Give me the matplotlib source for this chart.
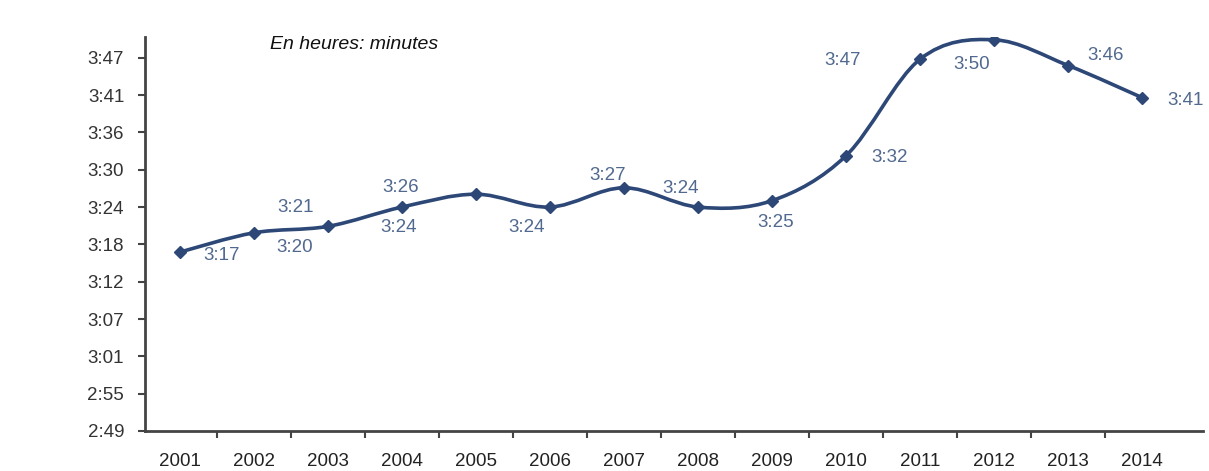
import matplotlib
matplotlib.use("Agg")
from matplotlib import patches, pyplot as plt
from matplotlib.path import Path
import numpy as np

plt.rcParams['font.family'] = ['Liberation Sans', 'DejaVu Sans']

years = ['2001', '2002', '2003', '2004', '2005', '2006', '2007',
         '2008', '2009', '2010', '2011', '2012', '2013', '2014']
# durée en minutes
minutes = [197, 200, 201, 204, 206, 204, 207, 204, 205, 212, 227, 230, 226, 221]
# position des étiquettes (pixels, relatif au point)
label_dx = [42, 41, -32, -3, -75, -23, -16, -17, 4, 43, -78, -23, 37, 43]
label_dy = [-3, -15, 19, -20, 7, -20, 12, 19, -22, -2, -1, -25, 10, -3]

y_ticks = [169.2 + 5.8 * k for k in range(11)]

line_color = '#2d4877'
label_color = '#51698f'


def hmm(v):
    v = int(round(v))
    return "%d:%02d" % (v // 60, v % 60)


def smooth_path(xs, ys):
    # courbe lissée façon Excel (bezier catmull-rom)
    pts = np.column_stack([xs, ys]).astype(float)
    ext = np.vstack([pts[0], pts, pts[-1]])
    verts = [pts[0]]
    codes = [Path.MOVETO]
    for i in range(len(pts) - 1):
        p0, p1, p2, p3 = ext[i], ext[i + 1], ext[i + 2], ext[i + 3]
        c1 = p1 + (p2 - p0) / 6.0
        c2 = p2 - (p3 - p1) / 6.0
        verts += [c1, c2, p2]
        codes += [Path.CURVE4] * 3
    return Path(verts, codes)


fig = plt.figure(figsize=(12.09, 4.71), dpi=100)
ax = fig.add_axes([0.12, 0.085, 0.875, 0.836])

x = np.arange(len(years))
ax.add_patch(patches.PathPatch(smooth_path(x, minutes), edgecolor=line_color,
                               facecolor='none', lw=2.6))
ax.plot(x, minutes, linestyle='none', marker='D', markersize=6.5,
        color=line_color)

for xi, v, dx, dy in zip(x, minutes, label_dx, label_dy):
    ax.annotate(hmm(v), (xi, v), xytext=(dx, dy), textcoords='offset pixels',
                ha='center', va='center', fontsize=13.5, color=label_color)

ax.set_xlim(-0.47, 13.82)
ax.set_ylim(169.2, 230.4)

ax.set_yticks(y_ticks)
ax.set_yticklabels([hmm(t) for t in y_ticks])
ax.set_xticks(x)
ax.set_xticklabels(years)
ax.set_xticks(x[:-1] + 0.5, minor=True)

ax.tick_params(axis='y', length=5, width=1.5, color='#444444', pad=10,
               labelsize=13.5, labelcolor='#333333')
ax.tick_params(axis='x', which='major', length=0, pad=16,
               labelsize=13.5, labelcolor='#222222')
ax.tick_params(axis='x', which='minor', length=5, width=1.5, color='#444444')

for side in ['top', 'right']:
    ax.spines[side].set_visible(False)
for side in ['left', 'bottom']:
    ax.spines[side].set_linewidth(2)
    ax.spines[side].set_color('#444444')

fig.text(0.223, 0.905, 'En heures: minutes', style='italic', fontsize=14,
         color='#111111', va='center')

fig.savefig('out.png', dpi=100)
